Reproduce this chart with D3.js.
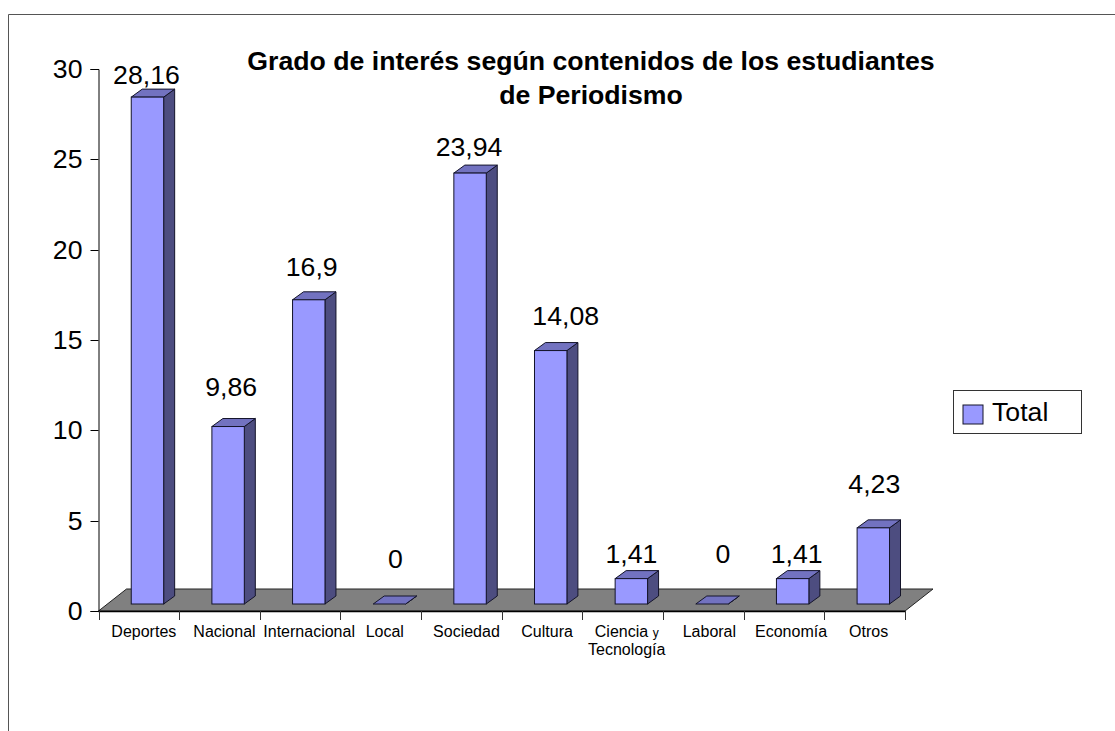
<!DOCTYPE html>
<html><head><meta charset="utf-8">
<script src="https://cdn.jsdelivr.net/npm/d3@7"></script>
<style>html,body{margin:0;padding:0;background:#fff}svg{display:block}text{font-family:"Liberation Sans",Arial,sans-serif;fill:#000}</style>
</head><body>
<script>
const categories=["Deportes","Nacional","Internacional","Local","Sociedad","Cultura","Ciencia y Tecnología","Laboral","Economía","Otros"];
const values=[28.16,9.86,16.9,0,23.94,14.08,1.41,0,1.41,4.23];
const valueLabels=["28,16","9,86","16,9","0","23,94","14,08","1,41","0","1,41","4,23"];
const yTicks=[0,5,10,15,20,25,30];
const titleLines=["Grado de interés según contenidos de los estudiantes","de Periodismo"];
const seriesName="Total";

const W=1115,H=731;
const svg=d3.select("body").append("svg").attr("width",W).attr("height",H);
const x=d3.scaleBand().domain(categories).range([98.5,905]);
const y=d3.scaleLinear().domain([0,30]).range([611,69]);
// bars stand on a plane set back into the floor, so they get their own projected scale
const yBar=d3.scaleLinear().domain([0,30]).range([604,64]);
const bw=x.bandwidth();
const barX=d=>x(d)+bw*0.406, barW=bw*0.402;
const dx=11,dy=8,floorX=28,floorY=22;
const C={front:"#9999ff",top:"#7272c0",side:"#4d4d80",edge:"#14142a",floor:"#808080"};
// hand-placed data labels, as in the source
const labelGap=[13,31,24,36,17,26,16,41,16,35];
const labelDx=[-1,3,3,6,-1,15,0,11,4,1];
const tickDx=[5,5,9,4,5,5,4,6,7,4];

// outer frame
svg.append("path").attr("d",`M8.5,${H}V14.5H${W}`).attr("fill","none").attr("stroke","#555").attr("stroke-width",1);

// floor
const y0=y(0),xL=x.range()[0],xR=x.range()[1];
svg.append("path").attr("d",`M${xL},${y0}L${xL+floorX},${y0-floorY}H${xR+floorX}L${xR},${y0}Z`)
  .attr("fill",C.floor).attr("stroke","#222").attr("stroke-width",1);

// axes
const ya=d3.axisLeft(y).tickValues(yTicks).tickSize(8).tickPadding(8).tickFormat(d3.format("d"));
const gy=svg.append("g").attr("transform",`translate(${xL},0)`).call(ya);
gy.selectAll("text").style("font-size","26.67px").attr("dy","0.33em");
gy.selectAll("path,line").attr("stroke","#000");
gy.selectAll(".tick").attr("transform",d=>`translate(0,${Math.round(y(d))+.5})`);
const tickEdges=x.domain().map(d=>x(d)).concat([xR]);
const gx=svg.append("g").attr("class","xaxis");
gx.append("line").attr("x1",xL).attr("x2",xR).attr("y1",y0+.5).attr("y2",y0+.5).attr("stroke","#000").attr("stroke-width",1.5);
gx.selectAll("line.t").data(tickEdges).join("line").attr("class","t")
  .attr("x1",d=>Math.round(d)+.5).attr("x2",d=>Math.round(d)+.5).attr("y1",y0).attr("y2",y0+9).attr("stroke","#333");
const lab=gx.selectAll("text").data(categories).join("text")
  .attr("text-anchor","middle").style("font-size","16px")
  .attr("transform",(d,i)=>`translate(${x(d)+bw/2+tickDx[i]},${y0+26})`);
lab.each(function(d){
  const t=d3.select(this);
  if(d.startsWith("Ciencia")){
    const a=t.append("tspan").attr("x",0).attr("y",0);
    a.append("tspan").text("Ciencia ");
    a.append("tspan").style("font-size","12px").text("y");
    t.append("tspan").attr("x",0).attr("y",18).text("Tecnología");
  } else t.text(d);
});

// bars
const bars=svg.append("g").selectAll("g").data(categories.map((c,i)=>({c,v:values[i],i}))).join("g");
bars.each(function(d){
  const g=d3.select(this),l=barX(d.c),r=l+barW,b=yBar(0),t=yBar(d.v);
  g.append("path").attr("d",`M${r},${t}L${r+dx},${t-dy}V${b-dy}L${r},${b}Z`).attr("fill",C.side).attr("stroke",C.edge);
  g.append("path").attr("d",`M${l},${t}L${l+dx},${t-dy}H${r+dx}L${r},${t}Z`).attr("fill",C.top).attr("stroke",C.edge);
  if(d.v>0) g.append("rect").attr("x",l).attr("y",t).attr("width",barW).attr("height",b-t).attr("fill",C.front).attr("stroke",C.edge);
  g.append("text").attr("x",l+barW/2+labelDx[d.i]).attr("y",t-labelGap[d.i])
    .attr("text-anchor","middle").style("font-size","26.67px").text(valueLabels[d.i]);
});

// title
svg.append("g").selectAll("text").data(titleLines).join("text")
  .attr("x",591).attr("y",(d,i)=>70+i*34).attr("text-anchor","middle")
  .style("font-size","26.67px").style("font-weight","bold").text(d=>d);

// legend
const lg=svg.append("g");
lg.append("rect").attr("x",953.5).attr("y",390.5).attr("width",128).attr("height",43).attr("fill","#fff").attr("stroke","#333");
lg.append("rect").attr("x",963).attr("y",405).attr("width",20).attr("height",19).attr("fill",C.front).attr("stroke",C.edge);
lg.append("text").attr("x",992).attr("y",421).style("font-size","26.67px").text(seriesName);
</script>
</body></html>
